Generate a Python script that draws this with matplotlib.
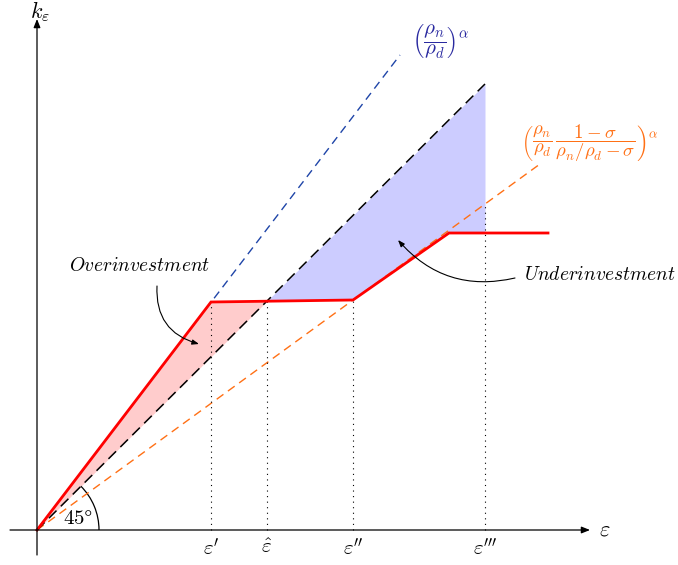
import numpy as np
import matplotlib
matplotlib.use('Agg')
import matplotlib.pyplot as plt
from matplotlib.patches import Arc

"""
Over/underinvestment diagram: capital k against epsilon
"""

plt.rcParams['mathtext.fontset'] = 'cm'
plt.rcParams['font.family'] = 'DejaVu Serif'

# optimal policy (red), kinks at eps', eps'', then flat
red_x = [0, 174, 316, 412, 511]
red_y = [0, 228, 230, 297, 297]

# reference rays from the origin
diag_end = (448, 446)       # 45 degree line
blue_end = (363, 475)       # slope (rho_n/rho_d)^alpha
orange_end = (503, 366)     # slope of the lower bound

eps_triple = 448
tick_labels = [r"$\varepsilon'$", r"$\hat{\varepsilon}$", r"$\varepsilon''$", r"$\varepsilon'''$"]


def main():
  fig = plt.figure(figsize=(6.78, 5.65), dpi=100)
  ax = fig.add_axes([0, 0, 1, 1])
  ax.set_xlim(-37, 641)
  ax.set_ylim(-35, 530)
  ax.axis('off')

  rx = np.array(red_x, dtype=float)
  ry = np.array(red_y, dtype=float)
  dslope = diag_end[1] / diag_end[0]
  oslope = orange_end[1] / orange_end[0]

  # eps hat: where the flat red part crosses the diagonal
  s = (ry[2] - ry[1]) / (rx[2] - rx[1])
  eps_hat = (ry[1] - s * rx[1]) / (dslope - s)

  # pink: red above diagonal, origin to eps hat
  xs = np.linspace(0, eps_hat, 200)
  ax.fill_between(xs, dslope * xs, np.interp(xs, rx, ry), color='#ffcccc', lw=0)
  # blue: diagonal above red, eps hat to eps'''
  xs = np.linspace(eps_hat, eps_triple, 400)
  ax.fill_between(xs, np.interp(xs, rx, ry), dslope * xs, color='#ccccff', lw=0)

  ax.plot([0, blue_end[0]], [0, blue_end[1]], color='#1f45a8', lw=1.0, dashes=(6, 4))
  ax.plot([0, orange_end[0]], [0, orange_end[1]], color='#ff7015', lw=1.0, dashes=(6, 4))
  ax.plot([0, diag_end[0]], [0, diag_end[1]], color='black', lw=1.1, dashes=(7, 4))

  # dotted guides
  guides = [rx[1], eps_hat, rx[2], eps_triple]
  for gx, lab in zip(guides, tick_labels):
    top = np.interp(gx, rx, ry)
    if gx == eps_triple:
      top = oslope * gx
    ax.plot([gx, gx], [0, top], color='black', lw=0.8, linestyle=(0, (1, 4)))
    ax.text(gx, -8, lab, ha='center', va='top', fontsize=15)

  ax.plot(rx, ry, color='#ff0000', lw=2.0, solid_joinstyle='miter')

  # axes
  arr = dict(arrowstyle='-|>,head_length=0.5,head_width=0.2', color='black', lw=0.9, shrinkA=0, shrinkB=0)
  ax.annotate('', xy=(553, 0), xytext=(-27, 0), arrowprops=arr)
  ax.annotate('', xy=(0, 511), xytext=(0, -25), arrowprops=arr)
  ax.text(562, 0, r'$\varepsilon$', fontsize=16, va='center', ha='left')
  ax.text(3, 518, r'$k_\varepsilon$', fontsize=16, va='center', ha='center')

  # 45 degree arc
  ax.add_patch(Arc((0, 0), 124, 124, theta1=0, theta2=45, color='black', lw=0.9))
  ax.text(41, 12, r'$45\degree$', fontsize=15, ha='center', va='center')

  # slope labels
  ax.text(375, 488, r'$\left(\dfrac{\rho_n}{\rho_d}\right)^\alpha$', color='#2a2aa0',
          fontsize=15, ha='left', va='center')
  ax.text(484, 387, r'$\left(\dfrac{\rho_n}{\rho_d}\,\dfrac{1-\sigma}{\rho_n/\rho_d-\sigma}\right)^\alpha$',
          color='#ff7015', fontsize=13.5, ha='left', va='center')

  # annotations
  ax.text(103, 264, r'$Overinvestment$', fontsize=14, ha='center', va='center')
  ax.annotate('', xy=(162, 186), xytext=(120, 244),
              arrowprops=dict(arrowstyle='-|>,head_length=0.4,head_width=0.15', color='black', lw=0.8,
                              connectionstyle='arc3,rad=0.4', shrinkA=0, shrinkB=0))
  ax.text(563, 255, r'$Underinvestment$', fontsize=14, ha='center', va='center')
  ax.annotate('', xy=(361, 290), xytext=(478, 252),
              arrowprops=dict(arrowstyle='-|>,head_length=0.4,head_width=0.15', color='black', lw=0.8,
                              connectionstyle='arc3,rad=-0.3', shrinkA=0, shrinkB=0))

  fig.savefig('out.png', dpi=100)
  plt.close()


if __name__ == '__main__':
  main()
